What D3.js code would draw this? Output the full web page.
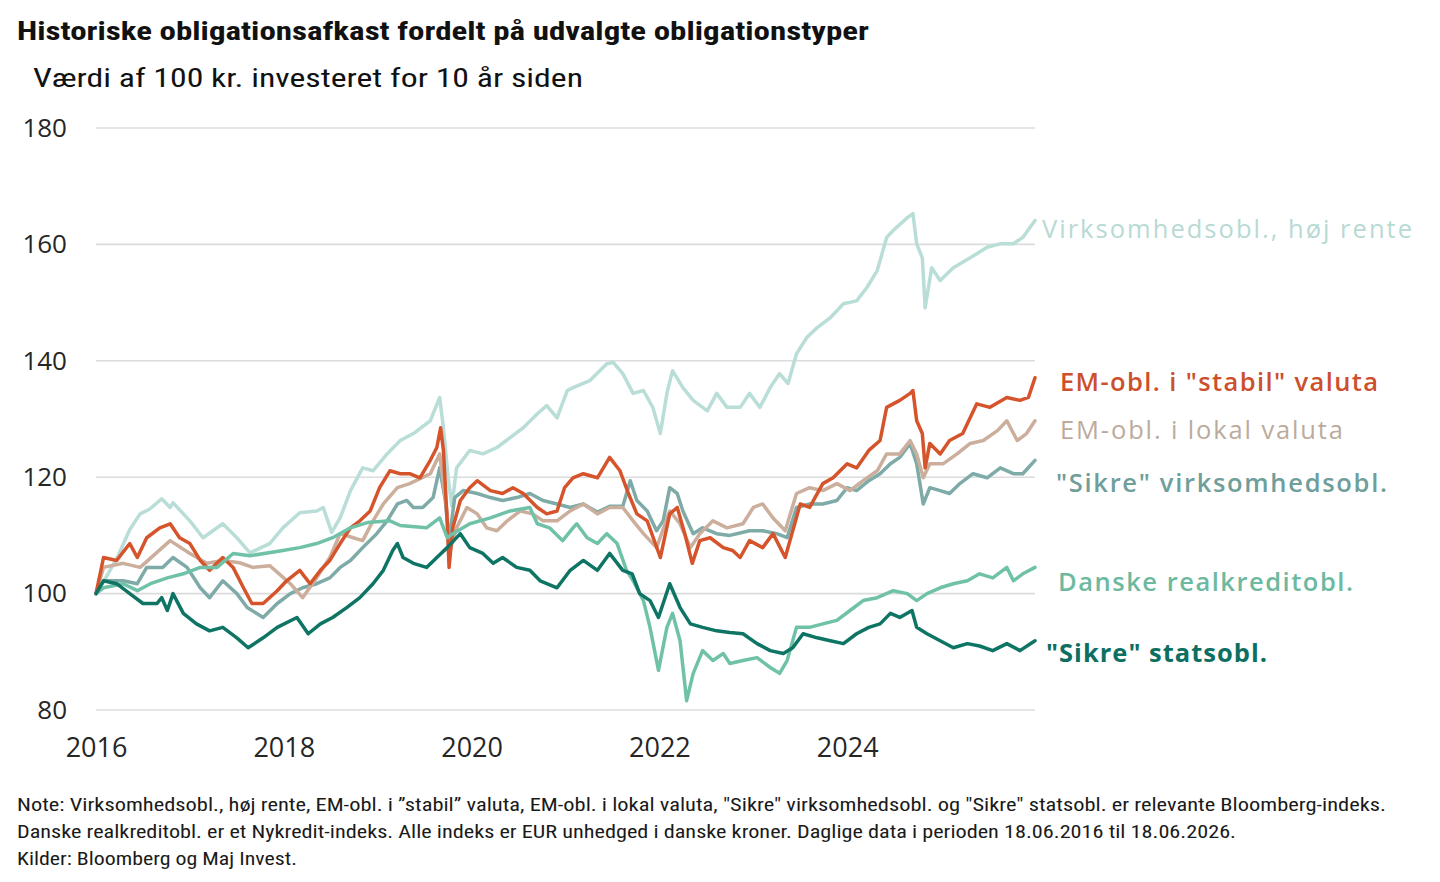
<!DOCTYPE html>
<html>
<head>
<meta charset="utf-8">
<script src="https://cdn.jsdelivr.net/npm/d3@7"></script>
<style>
  html, body { margin: 0; background: #fff; }
  svg { display: block; }
</style>
</head>
<body>
<svg id="chart" width="1440" height="882"></svg>
<script>
// =========================================================
//  Værdi af 100 kr. — six bond indices, June 2016 → June 2026
//  Values as [decimal year, index]
// =========================================================

const START = 2016.46;   // 18.06.2016
const END = 2026.46;     // 18.06.2026
const Y_TICKS = [80, 100, 120, 140, 160, 180];
const X_TICK_YEARS = [2016, 2018, 2020, 2022, 2024];

const HIGH_YIELD = [
  [2016.46, 100], [2016.54, 102], [2016.68, 106], [2016.82, 111], [2016.93, 113.7], [2017.03, 114.5],
  [2017.16, 116.3], [2017.25, 114.8], [2017.28, 115.6], [2017.46, 112.5], [2017.60, 109.6], [2017.81, 112],
  [2017.96, 109.6], [2018.10, 107], [2018.31, 108.6], [2018.45, 111.3], [2018.63, 113.9], [2018.81, 114.2],
  [2018.88, 114.8], [2018.97, 110.5], [2019.06, 113], [2019.17, 117.7], [2019.30, 121.6], [2019.41, 121.1],
  [2019.56, 124], [2019.70, 126.3], [2019.84, 127.5], [2020.02, 129.7], [2020.12, 133.7], [2020.16, 128.5],
  [2020.21, 120], [2020.25, 115], [2020.30, 121.6], [2020.44, 124.6], [2020.58, 124], [2020.73, 125.1],
  [2020.87, 126.8], [2021.01, 128.5], [2021.16, 130.9], [2021.26, 132.3], [2021.37, 130.2], [2021.48, 134.9],
  [2021.54, 135.4], [2021.72, 136.6], [2021.90, 139.5], [2021.97, 139.7], [2022.07, 137.8], [2022.18, 134.4],
  [2022.29, 134.9], [2022.39, 132], [2022.47, 127.5], [2022.54, 134.4], [2022.60, 138.3], [2022.71, 135.4],
  [2022.82, 133.2], [2022.97, 131.4], [2023.07, 134.4], [2023.18, 132], [2023.32, 132], [2023.42, 134.4],
  [2023.53, 132], [2023.64, 135.4], [2023.74, 137.8], [2023.83, 136.1], [2023.92, 141.2], [2024.03, 144],
  [2024.14, 145.7], [2024.28, 147.4], [2024.42, 149.8], [2024.56, 150.3], [2024.67, 152.6], [2024.78, 155.5],
  [2024.88, 161.2], [2024.95, 162.4], [2025.10, 164.6], [2025.16, 165.3], [2025.20, 160.1], [2025.26, 157.7],
  [2025.29, 149.1], [2025.36, 156], [2025.45, 153.8], [2025.59, 156], [2025.77, 157.7], [2025.95, 159.5],
  [2026.09, 160.1], [2026.23, 160.1], [2026.33, 161.2], [2026.46, 164.1]
];

const EM_STABLE = [
  [2016.46, 100], [2016.54, 106.2], [2016.68, 105.7], [2016.82, 108.6], [2016.90, 106.2], [2017.00, 109.6],
  [2017.14, 111.3], [2017.25, 112], [2017.35, 109.6], [2017.46, 108.6], [2017.57, 105.7], [2017.67, 104],
  [2017.81, 106.2], [2017.92, 104.5], [2018.03, 101], [2018.12, 98.3], [2018.24, 98.3], [2018.39, 100.5],
  [2018.49, 102.2], [2018.63, 104], [2018.74, 101.7], [2018.85, 104], [2018.95, 105.7], [2019.06, 108.6],
  [2019.17, 111.3], [2019.27, 112.5], [2019.38, 114.2], [2019.48, 118.2], [2019.59, 121.1], [2019.70, 120.6],
  [2019.80, 120.6], [2019.91, 119.9], [2020.02, 122.9], [2020.09, 125.1], [2020.13, 128.5], [2020.16, 124.6],
  [2020.20, 112.5], [2020.22, 104.5], [2020.26, 111.3], [2020.34, 116], [2020.44, 118.2], [2020.52, 119.4],
  [2020.66, 117.7], [2020.79, 117.2], [2020.90, 118.2], [2021.01, 117.2], [2021.16, 114.8], [2021.26, 113.7],
  [2021.37, 114.2], [2021.45, 118.2], [2021.54, 119.9], [2021.65, 120.6], [2021.80, 119.9], [2021.93, 123.4],
  [2022.04, 121.1], [2022.13, 117.2], [2022.22, 113.7], [2022.33, 112.5], [2022.47, 106.2], [2022.57, 113.7],
  [2022.65, 114.8], [2022.73, 110.3], [2022.81, 105.2], [2022.89, 109.1], [2023.00, 109.6], [2023.14, 107.9],
  [2023.24, 107.4], [2023.32, 106.2], [2023.42, 109.1], [2023.56, 107.9], [2023.67, 110.3], [2023.80, 106.2],
  [2023.88, 110.8], [2023.96, 115.4], [2024.06, 114.8], [2024.20, 118.9], [2024.31, 119.9], [2024.46, 122.3],
  [2024.56, 121.6], [2024.69, 124.6], [2024.81, 126.3], [2024.88, 132], [2025.02, 133.2], [2025.13, 134.4],
  [2025.16, 134.9], [2025.20, 129.7], [2025.26, 127.5], [2025.29, 121.6], [2025.34, 125.8], [2025.45, 124],
  [2025.55, 126.3], [2025.69, 127.5], [2025.84, 132.6], [2025.98, 132], [2026.16, 133.7], [2026.30, 133.2],
  [2026.39, 133.7], [2026.46, 137.1]
];

const EM_LOCAL = [
  [2016.46, 100], [2016.54, 104.5], [2016.75, 105.2], [2016.93, 104.5], [2017.25, 109.1], [2017.46, 106.9],
  [2017.64, 105.2], [2017.81, 105.7], [2017.99, 105.3], [2018.13, 104.5], [2018.31, 104.8], [2018.53, 101.7],
  [2018.66, 99.3], [2018.81, 102.7], [2018.95, 106.2], [2019.06, 110.3], [2019.20, 109.6], [2019.30, 109.1],
  [2019.41, 112.5], [2019.52, 115.4], [2019.67, 118.2], [2019.80, 118.9], [2020.02, 120.6], [2020.12, 124],
  [2020.20, 113.7], [2020.22, 106.9], [2020.30, 111.3], [2020.41, 114.8], [2020.52, 113.7], [2020.62, 111.3],
  [2020.73, 110.8], [2020.84, 112.5], [2020.98, 114.2], [2021.11, 113.7], [2021.22, 112.5], [2021.37, 112.5],
  [2021.51, 114.2], [2021.65, 115.4], [2021.80, 113.7], [2021.93, 114.8], [2022.07, 114.8], [2022.18, 112.5],
  [2022.29, 110.3], [2022.43, 107.9], [2022.57, 114.2], [2022.68, 112], [2022.79, 107.9], [2022.89, 110.3],
  [2023.03, 112.5], [2023.18, 111.3], [2023.35, 112], [2023.46, 114.8], [2023.56, 115.4], [2023.67, 113],
  [2023.80, 110.8], [2023.92, 117.2], [2024.06, 118.2], [2024.20, 117.7], [2024.35, 118.9], [2024.49, 117.7],
  [2024.63, 119.4], [2024.78, 121.1], [2024.88, 124], [2025.02, 124], [2025.13, 126.3], [2025.20, 124],
  [2025.27, 119.9], [2025.34, 122.3], [2025.48, 122.3], [2025.63, 124], [2025.77, 125.8], [2025.91, 126.3],
  [2026.06, 128], [2026.16, 129.7], [2026.27, 126.3], [2026.37, 127.5], [2026.46, 129.7]
];

const SAFE_CORP = [
  [2016.46, 100], [2016.54, 102.2], [2016.75, 102.2], [2016.90, 101.7], [2017.00, 104.5], [2017.17, 104.5],
  [2017.28, 106.2], [2017.43, 104.5], [2017.57, 101], [2017.67, 99.3], [2017.81, 102.2], [2017.96, 100],
  [2018.07, 97.6], [2018.24, 95.9], [2018.39, 98.3], [2018.53, 100], [2018.66, 101], [2018.81, 101.7],
  [2018.95, 102.7], [2019.06, 104.5], [2019.17, 105.7], [2019.30, 107.9], [2019.45, 110.3], [2019.56, 112.5],
  [2019.67, 115.4], [2019.77, 116], [2019.84, 114.8], [2019.94, 114.8], [2020.05, 116.5], [2020.12, 121.6],
  [2020.18, 116], [2020.22, 109.1], [2020.28, 116.5], [2020.37, 117.7], [2020.52, 117.2], [2020.66, 116.5],
  [2020.79, 116], [2020.94, 116.5], [2021.08, 117.2], [2021.22, 116], [2021.37, 115.4], [2021.51, 114.8],
  [2021.65, 115.4], [2021.80, 114], [2021.93, 115], [2022.07, 115], [2022.15, 119.4], [2022.22, 116],
  [2022.33, 114.2], [2022.43, 110.8], [2022.50, 112.5], [2022.57, 118.2], [2022.65, 117.2], [2022.71, 114.2],
  [2022.82, 110.3], [2022.92, 111.3], [2023.07, 110.3], [2023.21, 110], [2023.42, 110.8], [2023.56, 110.8],
  [2023.71, 110.3], [2023.82, 109.6], [2023.92, 114.8], [2024.06, 115.4], [2024.20, 115.4], [2024.35, 116],
  [2024.46, 118.2], [2024.56, 117.7], [2024.69, 119.4], [2024.81, 120.6], [2024.92, 122.3], [2025.02, 123.4],
  [2025.13, 125.8], [2025.20, 122.3], [2025.27, 115.4], [2025.34, 118.2], [2025.45, 117.7], [2025.55, 117.2],
  [2025.66, 118.9], [2025.80, 120.6], [2025.95, 119.9], [2026.09, 121.6], [2026.23, 120.6], [2026.33, 120.6],
  [2026.46, 122.9]
];

const DK_MORTGAGE = [
  [2016.46, 100], [2016.54, 101], [2016.75, 101.7], [2016.90, 100.5], [2017.04, 101.7], [2017.22, 102.7],
  [2017.39, 103.4], [2017.57, 104.5], [2017.75, 104.5], [2017.92, 106.9], [2018.10, 106.5], [2018.45, 107.4],
  [2018.63, 107.9], [2018.81, 108.6], [2018.98, 109.6], [2019.17, 111.3], [2019.35, 112.2], [2019.59, 112.5],
  [2019.70, 111.7], [2019.98, 111.3], [2020.12, 113], [2020.20, 109.6], [2020.26, 110.3], [2020.44, 112],
  [2020.66, 113], [2020.87, 114.2], [2021.08, 114.8], [2021.16, 112], [2021.29, 111.3], [2021.43, 109.1],
  [2021.54, 111.3], [2021.58, 112], [2021.69, 109.6], [2021.80, 108.6], [2021.90, 110.3], [2022.01, 108.6],
  [2022.11, 104], [2022.18, 102.2], [2022.29, 98.8], [2022.36, 94.2], [2022.45, 86.8], [2022.54, 94.2],
  [2022.60, 96.6], [2022.68, 91.9], [2022.75, 81.6], [2022.82, 86.3], [2022.92, 90.2], [2023.03, 88.5],
  [2023.14, 89.7], [2023.21, 88], [2023.35, 88.5], [2023.50, 89], [2023.64, 87.3], [2023.74, 86.3],
  [2023.82, 88.5], [2023.92, 94.2], [2024.06, 94.2], [2024.20, 94.8], [2024.35, 95.4], [2024.49, 97.1],
  [2024.63, 98.8], [2024.78, 99.3], [2024.95, 100.5], [2025.10, 100], [2025.20, 98.8], [2025.31, 100],
  [2025.45, 101], [2025.59, 101.7], [2025.74, 102.2], [2025.87, 103.4], [2026.01, 102.7], [2026.16, 104.5],
  [2026.23, 102.2], [2026.33, 103.4], [2026.46, 104.5]
];

const SAFE_GOVT = [
  [2016.46, 100], [2016.54, 102.2], [2016.68, 101.7], [2016.82, 100], [2016.96, 98.3], [2017.11, 98.3],
  [2017.16, 99.3], [2017.22, 97.1], [2017.28, 100], [2017.39, 96.6], [2017.53, 94.8], [2017.67, 93.6],
  [2017.81, 94.2], [2017.96, 92.4], [2018.08, 90.7], [2018.24, 92.4], [2018.39, 94.2], [2018.60, 95.9],
  [2018.72, 93.1], [2018.85, 94.8], [2018.98, 95.9], [2019.13, 97.6], [2019.27, 99.3], [2019.41, 101.7],
  [2019.52, 104], [2019.62, 107.4], [2019.67, 108.6], [2019.73, 106.2], [2019.84, 105.2], [2019.98, 104.5],
  [2020.09, 106.2], [2020.20, 107.9], [2020.34, 110.3], [2020.44, 107.9], [2020.58, 106.9], [2020.69, 105.2],
  [2020.79, 106.2], [2020.94, 104.5], [2021.08, 104], [2021.19, 102.2], [2021.37, 101], [2021.51, 104],
  [2021.65, 105.7], [2021.80, 104], [2021.93, 106.9], [2022.07, 104], [2022.17, 103.4], [2022.25, 100],
  [2022.36, 98.8], [2022.45, 95.9], [2022.57, 101.7], [2022.68, 97.6], [2022.79, 94.8], [2022.92, 94.2],
  [2023.07, 93.6], [2023.21, 93.3], [2023.35, 93.1], [2023.50, 91.4], [2023.64, 90.2], [2023.78, 89.7],
  [2023.88, 90.7], [2023.99, 93.1], [2024.14, 92.4], [2024.28, 91.9], [2024.42, 91.4], [2024.56, 93.1],
  [2024.69, 94.2], [2024.81, 94.8], [2024.92, 96.6], [2025.02, 95.9], [2025.15, 97.1], [2025.20, 94.2],
  [2025.31, 93.1], [2025.45, 91.9], [2025.59, 90.7], [2025.74, 91.4], [2025.87, 91], [2026.01, 90.2],
  [2026.16, 91.4], [2026.30, 90.2], [2026.46, 91.9]
];

const TITLE = 'Historiske obligationsafkast fordelt på udvalgte obligationstyper';
const SUBTITLE = 'Værdi af 100 kr. investeret for 10 år siden';
const NOTES = [
  'Note: Virksomhedsobl., høj rente, EM-obl. i ”stabil” valuta, EM-obl. i lokal valuta, "Sikre" virksomhedsobl. og "Sikre" statsobl. er relevante Bloomberg-indeks.',
  'Danske realkreditobl. er et Nykredit-indeks. Alle indeks er EUR unhedged i danske kroner. Daglige data i perioden 18.06.2016 til 18.06.2026.',
  'Kilder: Bloomberg og Maj Invest.'
];
const NOTE_WIDTHS = [1369, 1219, 280];

// draw order: later series sit on top
const SERIES = [
  { key: 'hy',     name: 'Virksomhedsobl., høj rente', data: HIGH_YIELD,  color: '#b9ddd7', text: '#b7dad4' },
  { key: 'corp',   name: '"Sikre" virksomhedsobl.',    data: SAFE_CORP,   color: '#7eaaa7', text: '#6f9e9b' },
  { key: 'local',  name: 'EM-obl. i lokal valuta',     data: EM_LOCAL,    color: '#cbae9b', text: '#bcab9d' },
  { key: 'stable', name: 'EM-obl. i "stabil" valuta',  data: EM_STABLE,   color: '#d6542c', text: '#cc502b' },
  { key: 'dk',     name: 'Danske realkreditobl.',      data: DK_MORTGAGE, color: '#6fc2a8', text: '#6cb9a0' },
  { key: 'govt',   name: '"Sikre" statsobl.',          data: SAFE_GOVT,   color: '#0e7464', text: '#0d6f61' },
];

// end-of-line labels: value level (y), gap after the line end, target text width
const LABELS = {
  hy:     { at: 162.9, dx: 7,  w: 370, weight: 500 },
  stable: { at: 136.6, dx: 25, w: 318, weight: 600 },
  local:  { at: 128.2, dx: 25, w: 283, weight: 500 },
  corp:   { at: 119.2, dx: 21, w: 331, weight: 600 },
  dk:     { at: 102.1, dx: 23, w: 295, weight: 600 },
  govt:   { at: 90.0,  dx: 11, w: 221, weight: 700 },
};

const NARROW = '"Liberation Sans Narrow", "Arial Narrow", "Roboto Condensed", "DejaVu Sans Condensed", "Liberation Sans", sans-serif';
const LABEL_FONT = '"Open Sans", "Noto Sans", sans-serif';

const m = { l: 96, r: 1035, t: 128, b: 710 };
const svg = d3.select('#chart');

const x = d3.scaleLinear().domain([START, END]).range([m.l, m.r]);
const y = d3.scaleLinear().domain([80, 180]).range([m.b, m.t]);

// fit a text element to a target width (fonts differ from the original)
function fit(sel, w, adjust = 'spacingAndGlyphs') {
  const n = sel.node();
  if (Math.abs(n.getComputedTextLength() - w) > 2) {
    sel.attr('textLength', w).attr('lengthAdjust', adjust);
  }
  return sel;
}

// titles
fit(svg.append('text').attr('x', 17).attr('y', 40)
  .attr('font-family', NARROW).attr('font-weight', 700).attr('font-size', 26)
  .attr('fill', '#111').text(TITLE), 852);
fit(svg.append('text').attr('x', 33).attr('y', 87)
  .attr('font-family', NARROW).attr('font-weight', 400).attr('font-size', 25)
  .attr('fill', '#111').text(SUBTITLE), 550);

// grid
svg.append('g').selectAll('line').data(Y_TICKS).join('line')
  .attr('x1', m.l).attr('x2', m.r)
  .attr('y1', d => y(d)).attr('y2', d => y(d))
  .attr('stroke', '#dcdcdc').attr('stroke-width', 1.6);

// axes
const yAxis = svg.append('g').attr('transform', `translate(${m.l},0)`)
  .call(d3.axisLeft(y).tickValues(Y_TICKS).tickSize(0).tickPadding(29));
yAxis.select('.domain').remove();
yAxis.selectAll('text')
  .attr('font-family', LABEL_FONT).attr('font-size', 26).attr('fill', '#262626');

const xAxis = svg.append('g').attr('transform', `translate(0,${m.b})`)
  .call(d3.axisBottom(x)
    .tickValues(X_TICK_YEARS.map(yr => yr + (START - 2016)))
    .tickFormat(d => Math.floor(d))
    .tickSize(0).tickPadding(28));
xAxis.select('.domain').remove();
xAxis.selectAll('text')
  .attr('font-family', LABEL_FONT).attr('font-size', 27).attr('fill', '#262626');

// lines
const line = d3.line().x(d => x(d[0])).y(d => y(d[1]));
svg.append('g').selectAll('path').data(SERIES).join('path')
  .attr('fill', 'none')
  .attr('stroke', d => d.color)
  .attr('stroke-width', 3.5)
  .attr('stroke-linejoin', 'round')
  .attr('stroke-linecap', 'round')
  .attr('d', d => line(d.data));

// end labels
const gLab = svg.append('g');
SERIES.forEach(s => {
  const L = LABELS[s.key];
  const t = gLab.append('text')
    .attr('x', m.r + L.dx).attr('y', y(L.at))
    .attr('dominant-baseline', 'central')
    .attr('font-family', LABEL_FONT).attr('font-weight', L.weight)
    .attr('font-size', 25.5).attr('fill', s.text)
    .text(s.name);
  fit(t, L.w, 'spacing');
});

// notes
NOTES.forEach((n, i) => {
  const t = svg.append('text').attr('x', 17).attr('y', 811 + i * 27)
    .attr('font-family', NARROW).attr('font-size', 18).attr('fill', '#1a1a1a')
    .text(n);
  fit(t, NOTE_WIDTHS[i]);
});
</script>
</body>
</html>
